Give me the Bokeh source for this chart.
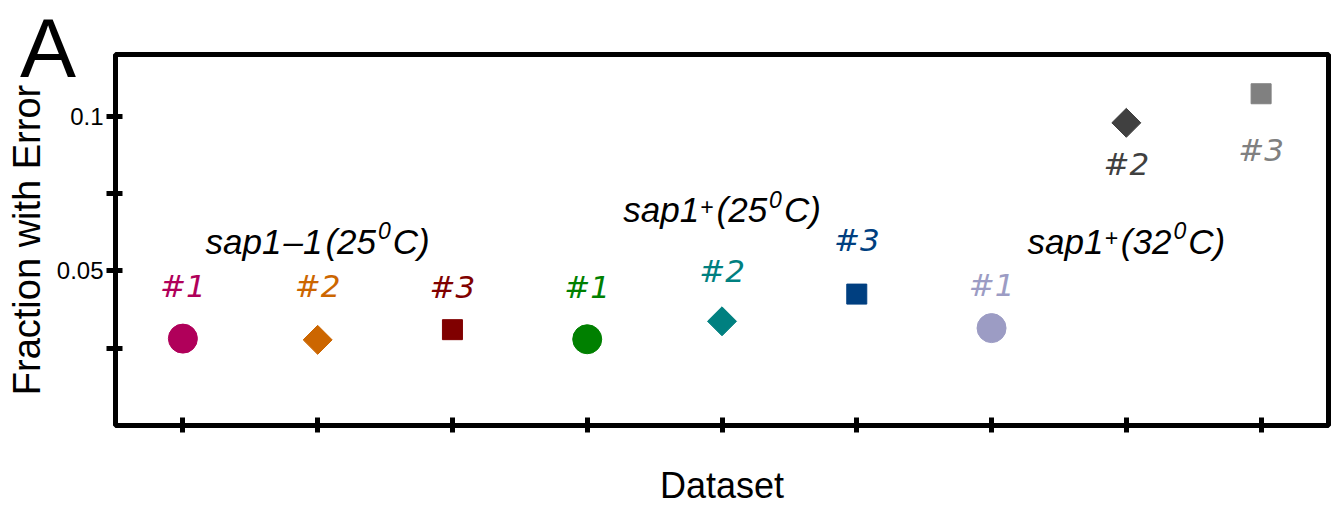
import math
from bokeh.plotting import figure
from bokeh.models import ColumnDataSource, Range1d, FixedTicker
from bokeh.core.properties import value
from bokeh.embed import file_html
from bokeh.resources import INLINE

# ---------------- data ----------------
datasets = [1, 2, 3, 4, 5, 6, 7, 8, 9]
fraction_error = [0.0281, 0.0277, 0.0310, 0.0279, 0.0337, 0.0425, 0.0315, 0.0979, 0.1073]
replicate_labels = ["#1", "#2", "#3", "#1", "#2", "#3", "#1", "#2", "#3"]
marker_kind = ["circle", "diamond", "square", "circle", "diamond", "square", "circle", "diamond", "square"]
point_colors = ["#b0005a", "#cc6600", "#800000", "#008000", "#008080", "#003f80", "#9c9cc4", "#404040", "#808080"]

group_centers = [2, 5, 8]
# group label pieces: (text, is_superscript)
group_pieces = [
    [("sap1", False), ("–1", False), ("(25", False), ("0", True), ("C)", False)],
    [("sap1", False), ("+", True), ("(25", False), ("0", True), ("C)", False)],
    [("sap1", False), ("+", True), ("(32", False), ("0", True), ("C)", False)],
]

ytick_values = [0.025, 0.05, 0.075, 0.1]
ytick_labels = ["", "0.05", "", "0.1"]
xtick_values = datasets
panel_letter = "A"

# ---------------- layout / style ----------------
MID = 0.3465   # distance (em) from text "middle" anchor down to the baseline
LAB_PX = 31
label_dy = [-42, -43, -32, -42, -40, -43, -32, 52, 67]      # px offset of "#n" baseline from marker
group_label_y = [0.0555, 0.0658, 0.0555]                    # baseline of group labels
MAIN_PX, SUP_PX = 35, 23
# approximate advance widths (em) of Liberation Sans
ADV = {"s": .5, "a": .556, "p": .556, "1": .556, "2": .556, "3": .556, "5": .556, "0": .556,
       "(": .333, ")": .333, "C": .722, "+": .584, "–": .556}
GAP = {"+": 1, "(": 3, "0": 2, "C": 2, "–": 2}
sup_raise = {"+": 8, "0": 15}
LETTER_PX = 84

FONT = "Liberation Sans"

p = figure(width=1337, height=508, output_backend="svg", toolbar_location=None,
           x_range=Range1d(0.5, 9.5), y_range=Range1d(0, 0.12),
           min_border_left=115, min_border_top=54, min_border_right=9, min_border_bottom=80)
p.background_fill_color = "white"
p.border_fill_color = "white"
p.grid.visible = False
p.outline_line_color = "black"
p.outline_line_width = 5

# axes
for ax in (p.xaxis[0], p.yaxis[0]):
    ax.axis_line_color = None
    ax.major_tick_line_color = "black"
    ax.major_tick_line_width = 5
    ax.minor_tick_line_color = None
    ax.major_label_text_font = FONT
    ax.axis_label_text_font = FONT
    ax.axis_label_text_font_style = "normal"
    ax.axis_label_text_color = "black"
    ax.major_label_text_color = "black"

p.yaxis.ticker = FixedTicker(ticks=ytick_values)
p.yaxis.major_label_overrides = {v: s for v, s in zip(ytick_values, ytick_labels)}
p.yaxis.major_tick_in = 7
p.yaxis.major_tick_out = 9
p.yaxis.major_label_text_font_size = "24px"
p.yaxis.major_label_standoff = 3
p.yaxis.axis_label = "Fraction with Error"
p.yaxis.axis_label_text_font_size = "38px"
p.yaxis.axis_label_standoff = 6

p.xaxis.ticker = FixedTicker(ticks=xtick_values)
p.xaxis.major_label_overrides = {v: "" for v in xtick_values}
p.xaxis.major_label_text_font_size = "1px"
p.xaxis.major_tick_in = 8
p.xaxis.major_tick_out = 7
p.xaxis.axis_label = "Dataset"
p.xaxis.axis_label_text_font_size = "36px"
p.xaxis.axis_label_standoff = 32

# markers
def subset(kind):
    idx = [i for i, k in enumerate(marker_kind) if k == kind]
    return ColumnDataSource(dict(x=[datasets[i] for i in idx],
                                 y=[fraction_error[i] for i in idx],
                                 c=[point_colors[i] for i in idx]))

p.scatter("x", "y", source=subset("circle"), marker="circle", size=29,
          fill_color="c", line_color="c")
p.scatter("x", "y", source=subset("diamond"), marker="square", size=20.5, angle=math.pi / 4,
          fill_color="c", line_color="c")
p.scatter("x", "y", source=subset("square"), marker="square", size=20,
          fill_color="c", line_color="c")

# replicate labels
lab_src = ColumnDataSource(dict(x=datasets, y=fraction_error, t=replicate_labels,
                                c=point_colors, dy=[d - MID * LAB_PX for d in label_dy]))
p.text("x", "y", text="t", source=lab_src, y_offset="dy", text_color="c",
       text_font=value("DejaVu Sans"), text_font_style="italic", text_font_size=f"{LAB_PX}px",
       text_align="center", text_baseline="middle")

# group labels, laid out piece by piece (superscripts raised and smaller)
mx, my, mt, mdx = [], [], [], []
sx, sy, st, sdx, sdy = [], [], [], [], []
for g, pieces in enumerate(group_pieces):
    offs, cur = [], 0.0
    for i, (txt, sup) in enumerate(pieces):
        if i > 0:
            cur += GAP.get(txt[0], 1)
        offs.append(cur)
        cur += sum(ADV[ch] for ch in txt) * (SUP_PX if sup else MAIN_PX)
    total = cur
    for (txt, sup), o in zip(pieces, offs):
        off = o - total / 2
        if sup:
            sx.append(group_centers[g]); sy.append(group_label_y[g]); st.append(txt)
            sdx.append(off); sdy.append(-sup_raise[txt] - MID * SUP_PX)
        else:
            mx.append(group_centers[g]); my.append(group_label_y[g]); mt.append(txt); mdx.append(off)

p.text("x", "y", text="t", x_offset="dx", y_offset=-MID * MAIN_PX,
       source=ColumnDataSource(dict(x=mx, y=my, t=mt, dx=mdx)),
       text_color="black", text_font=value(FONT), text_font_style="italic",
       text_font_size=f"{MAIN_PX}px", text_align="left", text_baseline="middle")
p.text("x", "y", text="t", x_offset="dx", y_offset="dy",
       source=ColumnDataSource(dict(x=sx, y=sy, t=st, dx=sdx, dy=sdy)),
       text_color="black", text_font=value(FONT), text_font_style="italic",
       text_font_size=f"{SUP_PX}px", text_align="left", text_baseline="middle")

# panel letter (drawn at overlay level so it is not clipped to the frame)
p.text(x=[-0.2016], y=[0.1126], text=[panel_letter], text_color="black",
       x_offset=-1, y_offset=-MID * LETTER_PX,
       text_font=value(FONT), text_font_size=f"{LETTER_PX}px", text_align="left",
       text_baseline="middle", level="overlay")

open("out.html", "w").write(file_html(p, INLINE))
